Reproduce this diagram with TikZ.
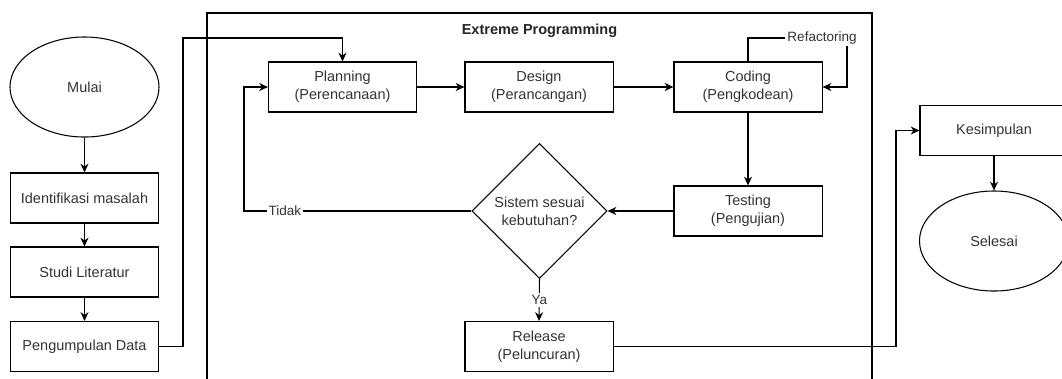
\documentclass[tikz,border=0pt]{standalone}
\usepackage{fontspec}
\setmainfont{Liberation Sans}
\usetikzlibrary{shapes.geometric,arrows.meta}

\begin{document}
\begin{tikzpicture}[x=0.025cm,y=-0.025cm,
  box/.style={rectangle,draw=black,line width=0.75pt,
              minimum width=3.7cm,minimum height=1.25cm,
              align=center,text=black!80,font=\fontsize{10.3}{12.8}\selectfont},
  term/.style={ellipse,draw=black,line width=0.75pt,inner sep=0pt,
              minimum width=3.725cm,minimum height=2.5cm,
              text=black!80,font=\fontsize{10.3}{12.8}\selectfont},
  dec/.style={diamond,draw=black,line width=0.75pt,aspect=1,inner sep=0pt,
              minimum width=3.375cm,minimum height=3.375cm,
              align=center,text=black!80,font=\fontsize{10.3}{12.8}\selectfont},
  arr/.style={-{Stealth[length=2.2mm,width=2mm,inset=0.7mm]},line width=0.75pt},
  note/.style={font=\fontsize{9.6}{11}\selectfont,text=black!80,
              inner sep=1.5pt,fill=white,draw=none}]
%%
%% Page frame (the XP frame runs off the bottom)
\useasboundingbox (0,0) rectangle (1062,378);
\clip (0,0) rectangle (1062,378);
%%
%% XP frame and title
\draw[line width=0.75pt] (207,13) rectangle (872,395);
\node[font=\fontsize{10.3}{12.8}\selectfont\bfseries,text=black!85](xp) at (539.5,31) {Extreme Programming};
%%
%% Left column: preparation
\node[term](mulai) at (84.5, 87  ) {Mulai};
\node[box] (ident) at (84.5,198  ) {Identifikasi masalah};
\node[box] (studi) at (84.5,272  ) {Studi Literatur};
\node[box] (data)  at (84.5,346.5) {Pengumpulan Data};
%%
%% XP cycle
\node[box](plan)   at (342.5, 87  ) {Planning\\(Perencanaan)};
\node[box](design) at (539,   87  ) {Design\\(Perancangan)};
\node[box](code)   at (748,   87  ) {Coding\\(Pengkodean)};
\node[box](test)   at (748,  211  ) {Testing\\(Pengujian)};
\node[dec](cek)    at (539.5,211  ) {Sistem sesuai\\kebutuhan?};
\node[box](rel)    at (539,  346.5) {Release\\(Peluncuran)};
%%
%% Right column: closing
\node[box] (kes) at (994,130.5) {Kesimpulan};
\node[term](sel) at (994,241  ) {Selesai};
%%
%% Bend points
\coordinate (c1)    at (183, 38);
\coordinate (refac) at (847, 38);
\coordinate (tdk)   at (244,211);
\coordinate (c2)    at (896,346.5);
%%
%% Left column arrows
\draw[arr](mulai) -- (ident);
\draw[arr](ident) -- (studi);
\draw[arr](studi) -- (data);
%%
%% Data → planning, over the top
\draw[arr](data.east) -| (c1) -| (plan.north);
%%
%% Main pipeline
\draw[arr](plan) -- (design);
\draw[arr](design) -- (code);
\draw[arr](code) -- (test);
\draw[arr](test) -- (cek);
%%
%% Refactoring loop on coding
\draw[arr](code.north) |- (refac) |- (code.east);
\node[note](reflbl) at (822,38) {Refactoring};
%%
%% Decision: no → back to planning, yes → release
\draw[arr](cek.west) -- node[note,pos=0.82]{Tidak} (tdk) |- (plan.west);
\draw[arr](cek.south) -- node[note]{Ya} (rel.north);
%%
%% Release → conclusion → end
\draw[arr](rel.east) -- (c2) |- (kes.west);
\draw[arr](kes) -- (sel);
\end{tikzpicture}
\end{document}
